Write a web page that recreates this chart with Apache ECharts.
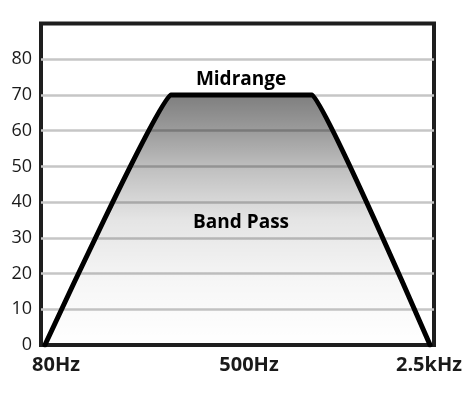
<!DOCTYPE html>
<html>
<head>
<meta charset="utf-8">
<script src="https://cdn.jsdelivr.net/npm/echarts@6/dist/echarts.min.js"></script>
<style>
    html, body { margin: 0; padding: 0; background: #fff; }
    #chart { width: 470px; height: 401px; }
</style>
</head>
<body>
<div id="chart"></div>
<script>
// 频段标签
var bandLabels = ["80Hz", "500Hz", "2.5kHz"];
// 梯形的横向位置 (0-100) 和电平
var shapeX = [1, 33, 69, 99];
var shapeLevel = [0, 70, 70, 0];
// 文字标注
var noteNames = ["Midrange", "Band Pass"];
var noteX = [50.9, 50.9];
var noteY = [74.4, 34.2];
// 纵轴
var yMin = 0;
var yMax = 90;
var yStep = 10;

var chart = echarts.init(document.getElementById("chart"));

var lineData = [];
for (var i = 0; i < shapeX.length; i++) {
    lineData.push([shapeX[i], shapeLevel[i]]);
}
var notes = [];
for (var j = 0; j < noteNames.length; j++) {
    notes.push({ name: noteNames[j], value: [noteX[j], noteY[j]] });
}

// x轴标签稍微偏移
var labelShift = [
    { value: bandLabels[0], textStyle: { padding: [0, 0, 0, 30] } },
    { value: bandLabels[1], textStyle: { padding: [0, 0, 0, 23] } },
    { value: bandLabels[2], textStyle: { padding: [0, 10, 0, 0] } }
];

var option = {
    animation: false,
    textStyle: { fontFamily: "Open Sans" },
    grid: {
        left: 41,
        right: 36,
        top: 23.5,
        bottom: 56,
        show: true,
        borderColor: "#1e1e1e",
        borderWidth: 4,
        backgroundColor: "#fff"
    },
    xAxis: [
        {
            type: "value",
            min: 0,
            max: 100,
            show: false
        },
        {
            type: "category",
            position: "bottom",
            boundaryGap: false,
            data: labelShift,
            axisLine: { show: false },
            axisTick: { show: false },
            splitLine: { show: false },
            axisLabel: {
                margin: 10,
                fontSize: 20,
                fontWeight: "bold",
                color: "#1a1a1a",
                interval: 0
            }
        }
    ],
    yAxis: {
        type: "value",
        min: yMin,
        max: yMax,
        interval: yStep,
        axisLine: { show: false },
        axisTick: { show: false },
        splitLine: {
            showMinLine: false,
            showMaxLine: false,
            lineStyle: { color: "#c6c6c6", width: 2.5 }
        },
        axisLabel: {
            margin: 9,
            fontSize: 18,
            color: "#1a1a1a",
            padding: [0, 0, 8, 0],
            formatter: function (v) {
                return v >= yMax ? "" : v;
            }
        }
    },
    series: [
        {
            type: "line",
            xAxisIndex: 0,
            data: lineData,
            symbol: "none",
            smooth: 0.08,
            smoothMonotone: "x",
            lineStyle: { color: "#000", width: 5, join: "round", cap: "round" },
            areaStyle: {
                color: new echarts.graphic.LinearGradient(0, 0, 0, 1, [
                    { offset: 0, color: "rgba(0,0,0,0.72)" },
                    { offset: 0.15, color: "rgba(0,0,0,0.55)" },
                    { offset: 0.3, color: "rgba(0,0,0,0.35)" },
                    { offset: 0.5, color: "rgba(0,0,0,0.15)" },
                    { offset: 0.75, color: "rgba(0,0,0,0.05)" },
                    { offset: 1, color: "rgba(0,0,0,0)" }
                ])
            }
        },
        {
            type: "scatter",
            xAxisIndex: 0,
            data: notes,
            symbolSize: 0,
            itemStyle: { color: "#000" },
            z: 5,
            label: {
                show: true,
                position: "inside",
                fontSize: 19,
                fontWeight: "bold",
                color: "#000",
                opacity: 1,
                formatter: function (p) {
                    return p.name;
                }
            }
        }
    ]
};
chart.setOption(option);
</script>
</body>
</html>
